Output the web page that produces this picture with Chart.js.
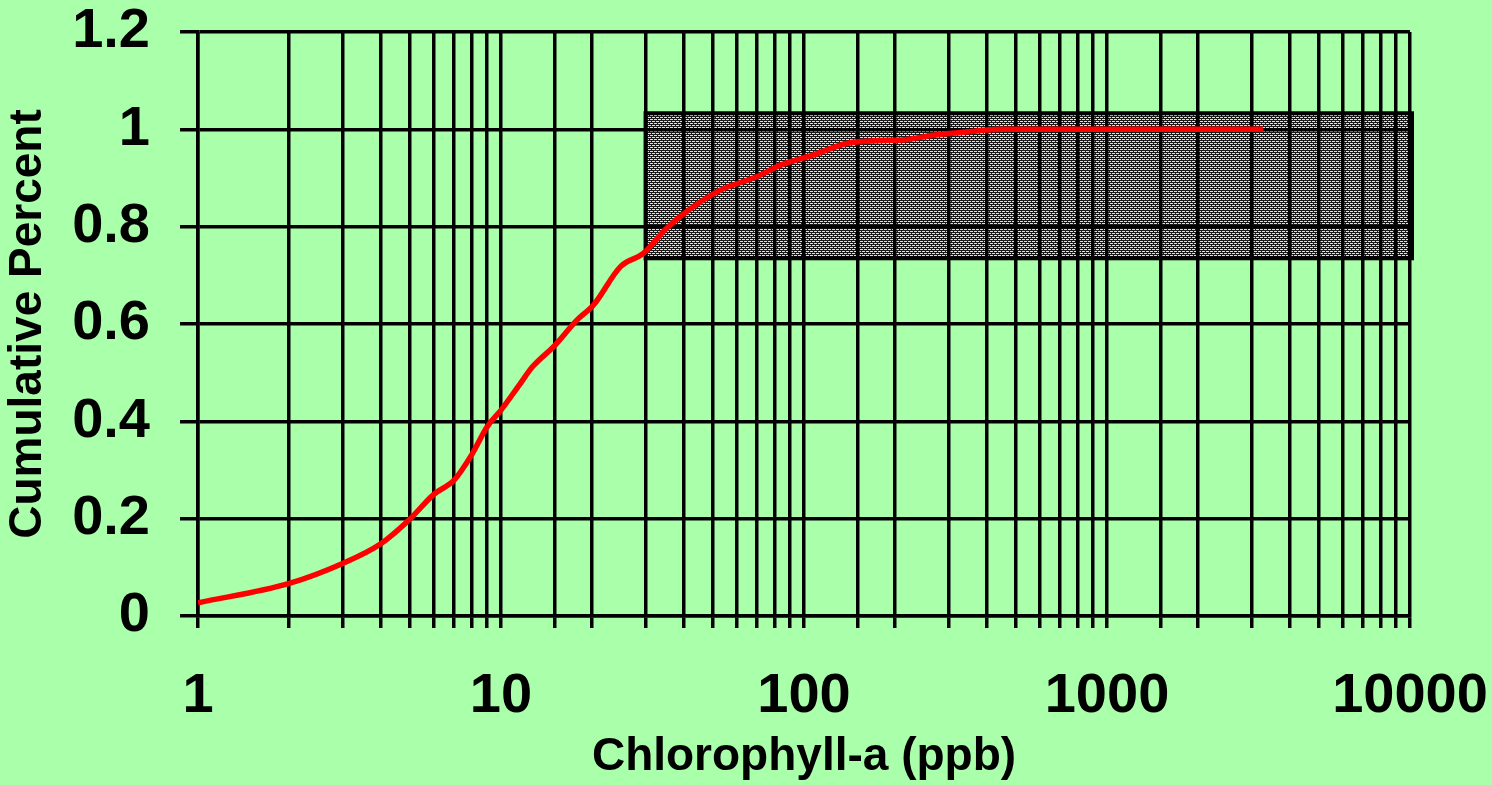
<!DOCTYPE html>
<html>
<head>
<meta charset="utf-8">
<script src="https://cdn.jsdelivr.net/npm/chart.js@4"></script>
<style>
  html, body { margin: 0; padding: 0; background: #aaffaa; }
  #wrap { width: 1492px; height: 785px; }
</style>
</head>
<body>
<div id="wrap"><canvas id="myChart"></canvas></div>
<script>
// chlorophyll-a values (ppb) and cumulative fraction
const chla = [1, 2, 3, 4, 5, 6, 7, 8, 9, 10, 11.5, 12.7, 15, 17.8, 20.2, 24.8, 29.5, 35, 41, 53, 70, 84, 107, 138, 178, 210, 267, 347, 445, 1000, 3270];
const cumPercent = [0.027, 0.067, 0.108, 0.148, 0.199, 0.25, 0.279, 0.331, 0.389, 0.423, 0.475, 0.512, 0.555, 0.608, 0.639, 0.718, 0.745, 0.795, 0.831, 0.875, 0.903, 0.927, 0.947, 0.971, 0.977, 0.978, 0.988, 0.995, 1.0, 1.0, 1.0];

// shaded box
const shadeX = [30, 10000];
const shadeY = [0.735, 1.033];

const xTickLabels = ['1', '10', '100', '1000', '10000'];
const yTickLabels = ['0', '0.2', '0.4', '0.6', '0.8', '1', '1.2'];

const points = chla.map((v, i) => ({x: v, y: cumPercent[i]}));

function makePattern(){
    const c = document.createElement('canvas');
    c.width = 4; c.height = 4;
    const g = c.getContext('2d');
    g.fillStyle = '#1a1a1a';
    g.fillRect(0, 0, 4, 4);
    g.fillStyle = '#e0e0e0';
    g.fillRect(0, 1, 3, 1);
    g.fillRect(2, 3, 2, 1);
    g.fillRect(0, 3, 1, 1);
    return g.createPattern(c, 'repeat');
}

const backdrop = {
    id: 'backdrop',
    beforeDraw(chart){
        const ctx = chart.ctx;
        const xs = chart.scales.x, ys = chart.scales.y;
        ctx.save();
        ctx.fillStyle = '#aaffaa';
        ctx.fillRect(0, 0, chart.width, chart.height);
        const l = xs.getPixelForValue(shadeX[0]);
        const r = xs.getPixelForValue(shadeX[1]);
        const t = ys.getPixelForValue(shadeY[1]);
        const b = ys.getPixelForValue(shadeY[0]);
        ctx.fillStyle = makePattern();
        ctx.fillRect(l, t, r - l, b - t);
        ctx.lineWidth = 4;
        ctx.strokeStyle = '#000';
        ctx.strokeRect(l, t, r - l + 2, b - t);
        ctx.restore();
    }
};

const ctx = document.getElementById('myChart').getContext('2d');
const myChart = new Chart(ctx, {
    type: 'line',
    data: {
        datasets: [{
            label: 'Cumulative Percent',
            data: points,
            borderColor: '#ff0000',
            borderWidth: 5.5,
            pointRadius: 0,
            cubicInterpolationMode: 'monotone',
            fill: false
        }]
    },
    options: {
        responsive: true,
        maintainAspectRatio: false,
        animation: false,
        layout: { padding: 0 },
        plugins: {
            legend: { display: false },
            tooltip: { enabled: false }
        },
        scales: {
            x: {
                type: 'logarithmic',
                min: 1,
                max: 10000,
                afterFit(scale){
                    scale.height = 169;
                    scale.paddingLeft = 0;
                    scale.paddingRight = 82;
                },
                border: { display: true, color: '#000', width: 3.5 },
                grid: {
                    color: '#000',
                    lineWidth: 3.5,
                    tickLength: 12,
                    tickWidth: 3.5,
                    tickColor: '#000'
                },
                ticks: {
                    autoSkip: false,
                    maxRotation: 0,
                    padding: 35,
                    color: '#000',
                    font: { family: 'Liberation Sans, Arial, sans-serif', size: 56, weight: 'bold' },
                    callback(v){
                        const s = String(v);
                        return xTickLabels.includes(s) ? s : '';
                    }
                },
                title: {
                    display: true,
                    text: 'Chlorophyll-a (ppb)',
                    color: '#000',
                    padding: { top: 0, bottom: 0 },
                    font: { family: 'Liberation Sans, Arial, sans-serif', size: 46, weight: 'bold' }
                }
            },
            y: {
                min: 0,
                max: 1.2,
                afterFit(scale){
                    scale.width = 198;
                    scale.paddingTop = 32;
                    scale.paddingBottom = 0;
                },
                border: { display: true, color: '#000', width: 3.5 },
                grid: {
                    lineWidth: 3.5,
                    tickLength: 18,
                    color(c){
                        const k = Math.round(c.tick.value * 10);
                        return k % 2 === 0 ? '#000' : 'rgba(0,0,0,0)';
                    },
                    tickColor: '#000',
                    tickWidth(c){
                        const k = Math.round(c.tick.value * 10);
                        return k % 2 === 0 ? 3.5 : 2;
                    }
                },
                ticks: {
                    stepSize: 0.1,
                    padding: 30,
                    color: '#000',
                    font: { family: 'Liberation Sans, Arial, sans-serif', size: 56, weight: 'bold' },
                    callback(v){
                        const k = Math.round(v * 10);
                        return k % 2 === 0 ? yTickLabels[k / 2] : '';
                    }
                },
                title: {
                    display: true,
                    text: 'Cumulative Percent',
                    color: '#000',
                    padding: { top: 1, bottom: 0 },
                    font: { family: 'Liberation Sans, Arial, sans-serif', size: 46, weight: 'bold' }
                }
            }
        }
    },
    plugins: [backdrop]
});
</script>
</body>
</html>
